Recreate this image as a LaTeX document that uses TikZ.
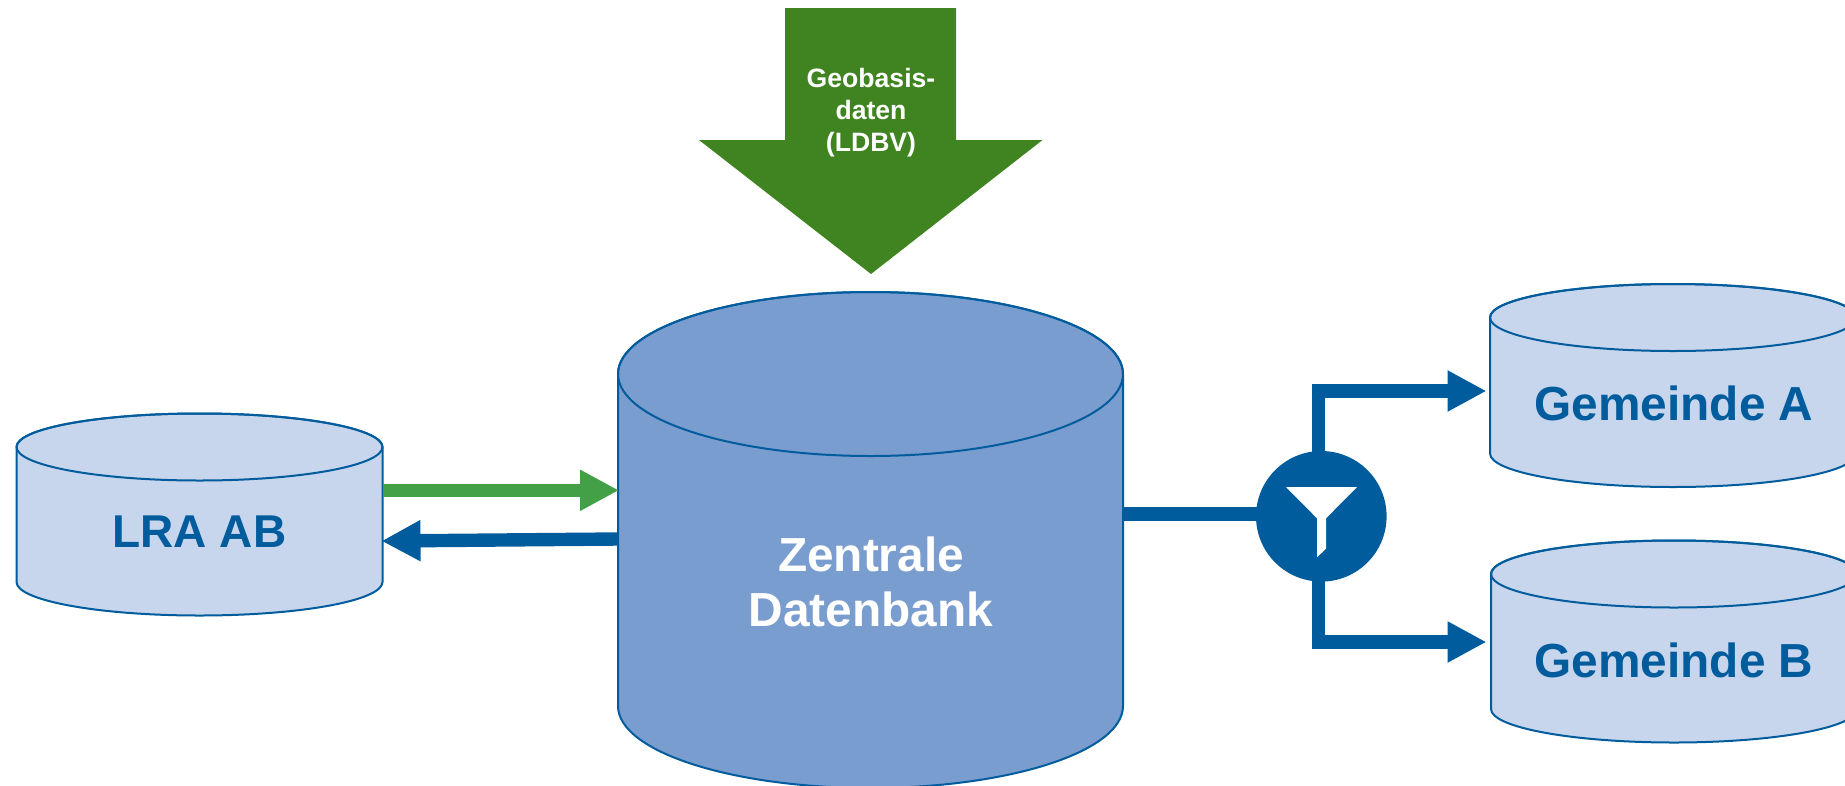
\documentclass[tikz,border=0pt]{standalone}
\usepackage{fontspec}
\setmainfont{Liberation Sans}
\usetikzlibrary{arrows.meta}
\definecolor{dbblue}{HTML}{005C9C}
\definecolor{dblight}{HTML}{C7D6EC}
\definecolor{dbmid}{HTML}{7A9DD0}
\definecolor{biggreen}{HTML}{3F8420}
\definecolor{arrowgreen}{HTML}{43A047}
\tikzset{
  x=1pt,y=-1pt,
  dbline/.style={draw=dbblue,line width=2pt,line join=round},
  flow/.style={line width=13.4pt,line join=miter,line cap=butt,
    -{Triangle[length=39pt,width=38.5pt]}},
  bluearrow/.style={flow,draw=dbblue},
  greenarrow/.style={flow,draw=arrowgreen},
  bluestem/.style={line width=13.4pt,draw=dbblue},
  anchorbox/.style={rectangle,inner sep=0pt,outer sep=0pt},
  biglabel/.style={font=\bfseries\fontsize{47.8}{55}\selectfont,align=center,inner sep=0pt},
  lralabelstyle/.style={font=\bfseries\fontsize{46}{55}\selectfont,align=center,inner sep=0pt},
  smalllabel/.style={font=\bfseries\fontsize{26.6}{32}\selectfont,align=center,inner sep=0pt,text=white},
}
% name, cx, rx, y of top ellipse centre, y of bottom ellipse centre, ry, fill
\newcommand{\dbcyl}[7]{%
  \path[fill=#7,dbline] ({#2-#3},#4) -- ({#2-#3},#5)
     arc[start angle=180,end angle=360,x radius=#3pt,y radius=#6pt]
     -- ({#2+#3},#4)
     arc[start angle=0,end angle=180,x radius=#3pt,y radius=#6pt] -- cycle;
  \path[dbline] (#2,#4) ellipse [x radius=#3pt,y radius=#6pt];
  \node[anchorbox,minimum width=2*#3 pt,minimum height={(#5-#4+2*#6)*1pt}] (#1) at (#2,{(#4+#5)/2}) {};
}
\begin{document}
\begin{tikzpicture}
\useasboundingbox (0,0) rectangle (1845,785);
\clip (0,0) rectangle (1845,785);

% databases
\dbcyl{lra}{199.5}{183}{447}{582}{33.5}{dblight}
\dbcyl{zdb}{870.5}{252.5}{374}{706}{82}{dbmid}
\dbcyl{gemA}{1673}{183}{317.5}{453.5}{33.5}{dblight}
\dbcyl{gemB}{1674}{183}{574}{709}{33.5}{dblight}

\node[lralabelstyle,text=dbblue] (lralabel) at (199.5,532) {LRA AB};
\node[biglabel,text=white] (zdblabel) at (871,582) {Zentrale\\Datenbank};
\node[biglabel,text=dbblue] (gemAlabel) at (1674,403) {Gemeinde A};
\node[biglabel,text=dbblue] (gemBlabel) at (1674,660) {Gemeinde B};

% big incoming arrow
\fill[biggreen] (785,8) -- (956,8) -- (956,140) -- (1042.5,140) -- (871,274) -- (699,140) -- (785,140) -- cycle;
\node[smalllabel] (geolabel) at (871,112.5) {Geobasis-\\daten\\(LDBV)};

% helper coordinates
\coordinate (toZ) at (0,490.3);
\coordinate (fromZ) at (0,539);
\coordinate (fromLRA) at (0,541);
\coordinate (outA) at (1486.5,391);
\coordinate (outB) at (1486.5,642);
\coordinate (branch) at (1318.7,516);

% connectors
\draw[greenarrow,shorten >=-1pt] (lra.east |- toZ) -- (zdb.west |- toZ);
\draw[bluearrow,shorten >=-1pt] (zdb.west |- fromZ) -- (lra.east |- fromLRA);
\draw[bluestem] (zdb.east |- 0,514) -- (branch |- 0,514);
\draw[bluearrow] (branch) |- (outA);
\draw[bluearrow] (branch) |- (outB);

% filter
\node[circle,fill=dbblue,minimum size=130.6pt,inner sep=0pt,outer sep=0pt] (filter) at (1321.3,516.3) {};
\fill[white] (1286,487) -- (1357,487) -- (1326,518.3) -- (1326,548.7) -- (1317,557.3) -- (1317,518.3) -- cycle;
\end{tikzpicture}
\end{document}
